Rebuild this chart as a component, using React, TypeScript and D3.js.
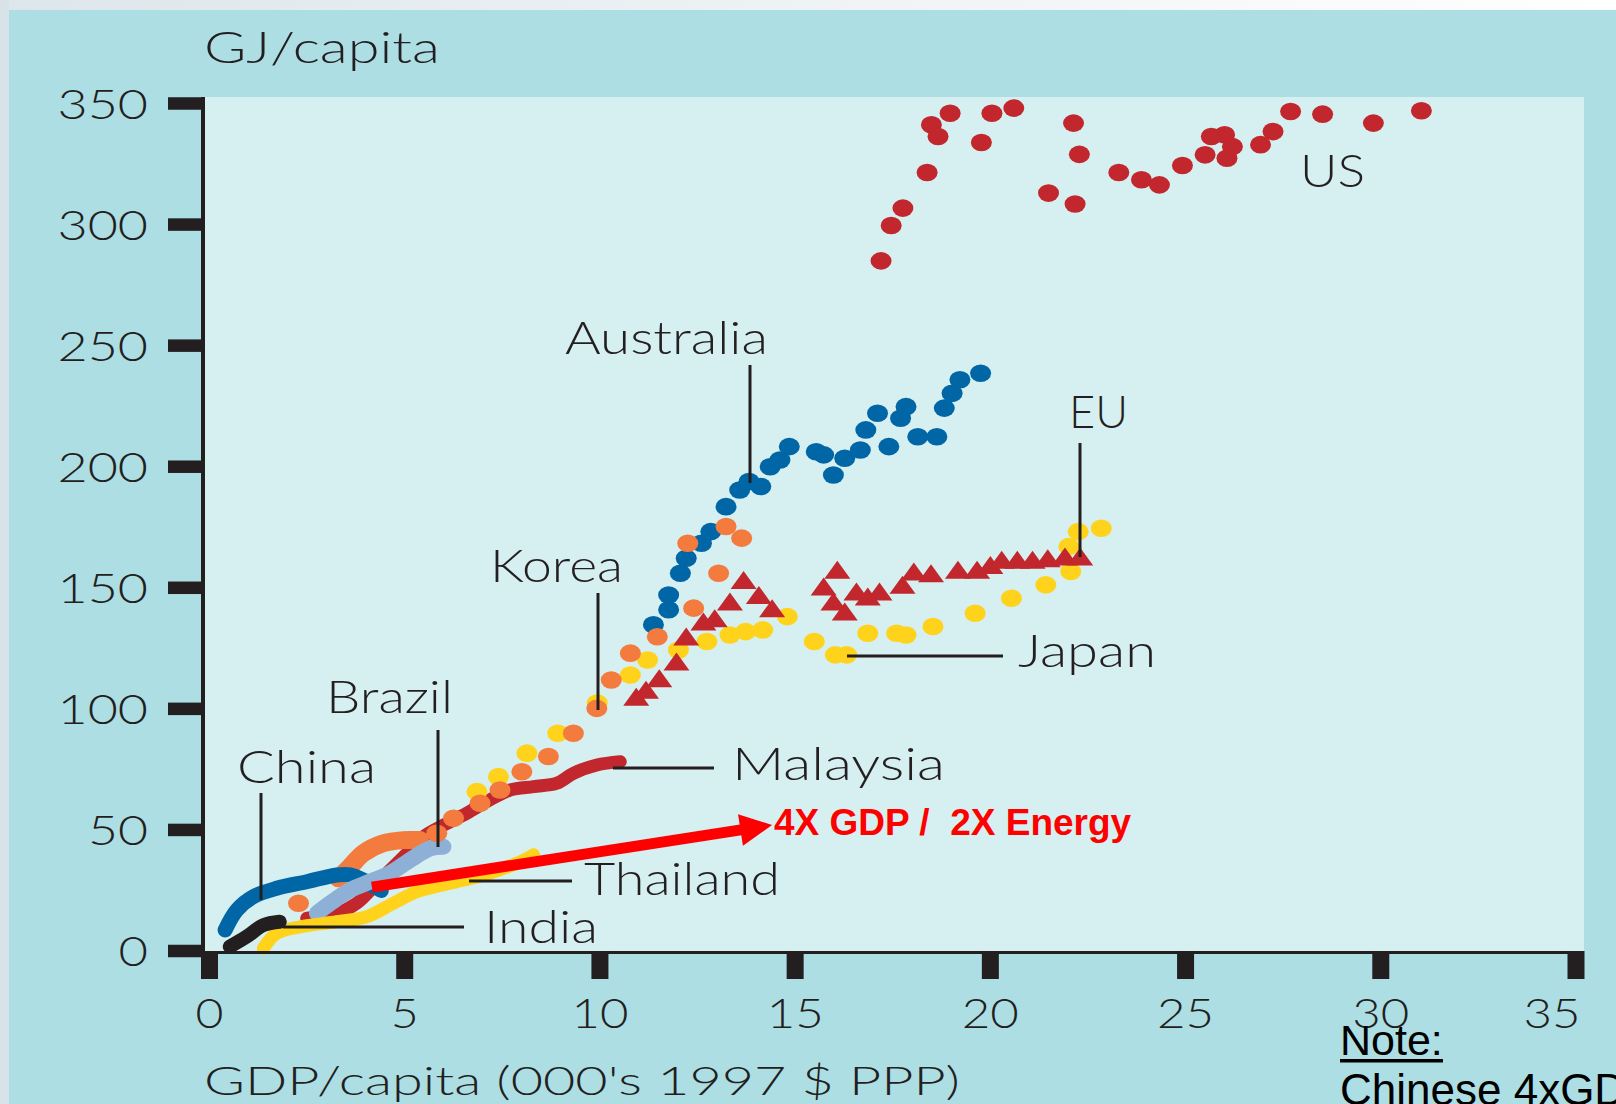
import React from "react";
import * as d3 from "d3";

const W = 1616;
const H = 1104;

// ---- axis ticks ----
const xTicks = [0, 5, 10, 15, 20, 25, 30, 35];
const yTicks = [0, 50, 100, 150, 200, 250, 300, 350];

// ---- series (GDP/capita 000's, GJ/capita) ----
const usPoints: [number, number][] = [
  [17.2, 285.0], [17.46, 299.6], [17.76, 306.8], [18.38, 321.5], [18.49, 341.2],
  [18.66, 336.4], [18.97, 346.0], [19.77, 333.9], [20.04, 346.0], [20.6, 348.1],
  [21.49, 313.0], [22.13, 341.9], [22.28, 329.0], [22.17, 308.5], [23.29, 321.5],
  [23.87, 318.5], [24.33, 316.4], [24.92, 324.4], [25.5, 328.8], [25.66, 336.4],
  [26.0, 337.1], [26.2, 332.2], [26.06, 327.4], [26.92, 333.0], [27.24, 338.4],
  [27.69, 346.7], [28.51, 345.6], [29.81, 341.9], [31.04, 347.0],
];

const australiaPoints: [number, number][] = [
  [11.37, 134.7], [11.76, 140.9], [11.76, 147.0], [12.06, 156.0], [12.21, 162.2],
  [12.6, 168.4], [12.84, 173.2], [13.23, 183.5], [13.58, 190.4], [13.82, 193.9],
  [14.12, 191.8], [14.36, 200.0], [14.61, 202.8], [14.85, 208.3], [15.54, 206.2],
  [15.73, 204.9], [15.98, 196.6], [16.27, 203.5], [16.67, 206.9], [16.81, 215.2],
  [17.11, 222.1], [17.4, 208.3], [17.7, 220.0], [17.84, 224.8], [18.14, 212.4],
  [18.63, 212.4], [18.82, 224.2], [19.02, 230.3], [19.22, 235.9], [19.75, 238.6],
];

const koreaEarly: [number, number][] = [
  [3.3, 30.0], [3.6, 34.8], [3.94, 40.4], [4.45, 44.5], [4.97, 45.8], [5.39, 45.8],
];
const koreaPoints: [number, number][] = [
  [2.28, 19.7], [5.82, 48.6], [6.25, 54.8], [6.93, 61.0], [7.44, 66.5], [8.0, 74.0],
  [8.68, 80.3], [9.32, 89.9], [9.92, 100.2], [10.29, 111.9], [10.78, 123.0],
  [11.47, 129.8], [12.4, 141.6], [13.04, 156.0], [12.25, 168.4], [13.23, 175.3],
  [13.63, 170.5],
];

const japanPoints: [number, number][] = [
  [6.85, 65.8], [7.4, 72.0], [8.13, 81.7], [8.92, 89.9], [9.93, 102.4], [10.78, 114.0],
  [11.22, 120.2], [12.01, 124.3], [12.74, 127.8], [13.33, 130.5], [13.73, 131.9],
  [14.17, 132.6], [14.8, 138.1], [15.49, 127.8], [16.03, 122.3], [16.32, 122.3],
  [16.86, 131.2], [17.6, 131.2], [17.84, 130.5], [18.53, 134.0], [19.61, 139.5],
  [20.54, 145.7], [21.42, 151.2], [22.06, 156.7], [22.01, 167.0], [22.25, 173.2],
  [22.84, 174.6],
];

const euPoints: [number, number][] = [
  [10.93, 104.3], [11.18, 107.1], [11.52, 111.9], [11.96, 118.8], [12.21, 129.1],
  [12.65, 135.3], [12.94, 136.7], [13.33, 143.6], [13.68, 152.5], [14.07, 146.3],
  [14.41, 140.8], [15.73, 149.8], [16.08, 156.7], [15.98, 143.6], [16.27, 139.5],
  [16.57, 147.7], [16.86, 145.7], [17.16, 147.7], [17.75, 150.5], [18.04, 156.0],
  [18.48, 155.3], [19.17, 156.7], [19.66, 156.7], [20.0, 158.7], [20.29, 160.8],
  [20.69, 160.8], [21.08, 160.8], [21.47, 161.5], [21.91, 162.2], [22.3, 162.2],
];

const chinaLine: [number, number][] = [
  [0.4, 8.7], [0.7, 16.9], [1.12, 22.4], [1.72, 25.9], [2.49, 28.6], [3.26, 31.4],
  [3.6, 31.4], [3.94, 29.3], [4.4, 25.0],
];
const indiaLine: [number, number][] = [
  [0.52, 1.8], [0.95, 5.9], [1.38, 10.7], [1.8, 12.1],
];
const thailandLine: [number, number][] = [
  [1.38, 1.1], [1.72, 7.3], [2.32, 10.0], [3.26, 12.1], [4.03, 14.2], [4.71, 19.7],
  [5.31, 24.5], [6.16, 28.0], [7.02, 31.4], [7.87, 36.2], [8.3, 39.7],
];
const brazilLine: [number, number][] = [
  [2.75, 15.6], [3.09, 19.7], [3.6, 25.2], [4.11, 28.6], [4.62, 32.1], [5.14, 37.6],
  [5.65, 42.4], [5.99, 43.1],
];
const malaysiaLine: [number, number][] = [
  [2.49, 13.5], [3.26, 15.6], [3.77, 19.7], [4.35, 29.0], [4.97, 38.9], [5.48, 47.2],
  [6.0, 52.0], [6.59, 56.9], [7.1, 61.7], [7.7, 66.5], [8.3, 67.9], [8.9, 69.3],
  [9.32, 73.4], [9.92, 76.8], [10.52, 78.2],
];

// annotation arrow (data coords)
const arrowFrom: [number, number] = [4.16, 26.4];
const arrowTo: [number, number] = [14.41, 52.0];

const C = {
  panel: "#ADDEE4",
  plot: "#D6EFF1",
  ink: "#231F20",
  blue: "#0066A6",
  orange: "#F47B3E",
  yellow: "#FFD31C",
  red: "#C1272D",
  light: "#8FB0D6",
  arrow: "#FF0000",
};

const FONT = "Lato, 'Open Sans', sans-serif";
const ARIAL = "'Liberation Sans', Arial, sans-serif";

export default function App() {
  const x = d3.scaleLinear().domain([0, 35]).range([209.5, 1576]);
  const y = d3.scaleLinear().domain([0, 350]).range([951, 103.5]);

  const line = d3
    .line<[number, number]>()
    .x((d) => x(d[0]))
    .y((d) => y(d[1]))
    .curve(d3.curveCatmullRom.alpha(0.5));

  const dot = (pts: [number, number][], fill: string, key: string) =>
    pts.map((d, i) => (
      <ellipse key={key + i} cx={x(d[0])} cy={y(d[1])} rx={10.5} ry={8.8} fill={fill} />
    ));

  const tri = (pts: [number, number][], fill: string) =>
    pts.map((d, i) => {
      const cx = x(d[0]);
      const cy = y(d[1]);
      const w = 26;
      const h = 18;
      return (
        <path
          key={"t" + i}
          d={`M${cx},${cy - h * 0.6}L${cx + w / 2},${cy + h * 0.4}L${cx - w / 2},${cy + h * 0.4}Z`}
          fill={fill}
        />
      );
    });

  const thick = (pts: [number, number][], color: string, w: number) => (
    <path d={line(pts) || ""} fill="none" stroke={color} strokeWidth={w} strokeLinecap="round" strokeLinejoin="round" />
  );

  // arrow geometry
  const ax0 = x(arrowFrom[0]);
  const ay0 = y(arrowFrom[1]);
  const ax1 = x(arrowTo[0]);
  const ay1 = y(arrowTo[1]);
  const ang = Math.atan2(ay1 - ay0, ax1 - ax0);
  const headLen = 32;
  const headHalf = 16;
  const bx = ax1 - headLen * Math.cos(ang);
  const by = ay1 - headLen * Math.sin(ang);
  const px = -Math.sin(ang);
  const py = Math.cos(ang);

  const labels = [
    { t: "Australia", x: 565, y: 354, len: 203 },
    { t: "EU", x: 1069, y: 428, len: 59 },
    { t: "Japan", x: 1018, y: 667, len: 138 },
    { t: "Korea", x: 490, y: 582, len: 133 },
    { t: "Brazil", x: 326, y: 713, len: 127 },
    { t: "China", x: 237, y: 783, len: 139 },
    { t: "Malaysia", x: 732, y: 780, len: 213 },
    { t: "Thailand", x: 584, y: 895, len: 196 },
    { t: "India", x: 484, y: 943, len: 114 },
    { t: "US", x: 1300, y: 187, len: 65 },
  ];

  const leaders = [
    [750, 365, 750, 483],
    [1080, 443, 1080, 557],
    [847, 656, 1003, 656],
    [598, 593, 598, 710],
    [438, 730, 438, 847],
    [261, 793, 261, 900],
    [613, 768, 714, 768],
    [469, 881, 572, 881],
    [283, 927, 464, 927],
  ];

  return (
    <svg width={W} height={H} style={{ display: "block", position: "absolute", left: 0, top: 0 }}>
      <defs>
        <linearGradient id="topg" x1="0" x2="1" y1="0" y2="0">
          <stop offset="0" stopColor="#DDE6EB" />
          <stop offset="1" stopColor="#FFFFFF" />
        </linearGradient>
      </defs>
      <rect x={0} y={0} width={W} height={H} fill="url(#topg)" />
      <rect x={0} y={0} width={9} height={H} fill="#D8E3E9" />
      <rect x={9} y={10} width={W - 9} height={H - 10} fill={C.panel} />
      <rect x={205} y={97} width={1379} height={854} fill={C.plot} />

      {/* series */}
      {thick(malaysiaLine, C.red, 13)}
      {thick(koreaEarly, C.orange, 18)}
      {thick(chinaLine, C.blue, 15)}
      {thick(brazilLine, C.light, 16)}
      {thick(thailandLine, C.yellow, 13)}
      {thick(indiaLine, C.ink, 14)}
      {dot(japanPoints, C.yellow, "j")}
      {tri(euPoints, C.red)}
      {dot(australiaPoints, C.blue, "a")}
      {dot(koreaPoints, C.orange, "k")}
      {dot(usPoints, C.red, "u")}

      {/* leader lines */}
      {leaders.map((l, i) => (
        <line key={"l" + i} x1={l[0]} y1={l[1]} x2={l[2]} y2={l[3]} stroke={C.ink} strokeWidth={3} />
      ))}

      {/* arrow */}
      <line x1={ax0} y1={ay0} x2={bx + 2 * Math.cos(ang)} y2={by + 2 * Math.sin(ang)} stroke={C.arrow} strokeWidth={11} />
      <path
        d={`M${ax1},${ay1}L${bx + px * headHalf},${by + py * headHalf}L${bx - px * headHalf},${by - py * headHalf}Z`}
        fill={C.arrow}
      />
      <text
        x={774}
        y={835}
        fill={C.arrow}
        fontFamily={ARIAL}
        fontWeight="bold"
        fontSize={37}
        style={{ whiteSpace: "pre" }}
        xmlSpace="preserve"
      >
        {"4X GDP /  2X Energy"}
      </text>

      {/* axes */}
      <rect x={201} y={97} width={4} height={860} fill={C.ink} />
      <rect x={201} y={951} width={1383} height={3} fill={C.ink} />
      {yTicks.map((v) => (
        <g key={"yt" + v}>
          <rect x={168} y={y(v) - 6.25} width={37} height={12.5} fill={C.ink} />
          <text
            x={148}
            y={y(v) + 15}
            textAnchor="end"
            fontFamily={FONT}
            fontWeight={300}
            fontSize={42}
            fill={C.ink}
            textLength={String(v).length * 30.5 - 1}
            lengthAdjust="spacingAndGlyphs"
          >
            {String(v)}
          </text>
        </g>
      ))}
      {xTicks.map((v) => (
        <g key={"xt" + v}>
          <rect x={x(v) - 8.5} y={951} width={17} height={28} fill={C.ink} />
          <text
            x={Math.min(x(v), 1552)}
            y={1028}
            textAnchor="middle"
            fontFamily={FONT}
            fontWeight={300}
            fontSize={42}
            fill={C.ink}
            textLength={String(v).length * 29 - 1}
            lengthAdjust="spacingAndGlyphs"
          >
            {String(v)}
          </text>
        </g>
      ))}

      {/* titles */}
      <text x={204} y={63} fontFamily={FONT} fontWeight={300} fontSize={43} fill={C.ink} textLength={236} lengthAdjust="spacingAndGlyphs">
        GJ/capita
      </text>
      <text x={204} y={1095} fontFamily={FONT} fontWeight={300} fontSize={40} fill={C.ink} textLength={756} lengthAdjust="spacingAndGlyphs">
        GDP/capita (000's 1997 $ PPP)
      </text>

      {/* series labels */}
      {labels.map((l) => (
        <text key={l.t} x={l.x} y={l.y} fontFamily={FONT} fontWeight={300} fontSize={46} fill={C.ink} textLength={l.len} lengthAdjust="spacingAndGlyphs">
          {l.t}
        </text>
      ))}

      {/* note */}
      <text x={1340} y={1055} fontFamily={ARIAL} fontSize={43} fill="#000">
        Note:
      </text>
      <rect x={1340} y={1059} width={103} height={3.5} fill="#000" />
      <text x={1340} y={1105} fontFamily={ARIAL} fontSize={44} fill="#000">
        Chinese 4xGDP
      </text>
    </svg>
  );
}
